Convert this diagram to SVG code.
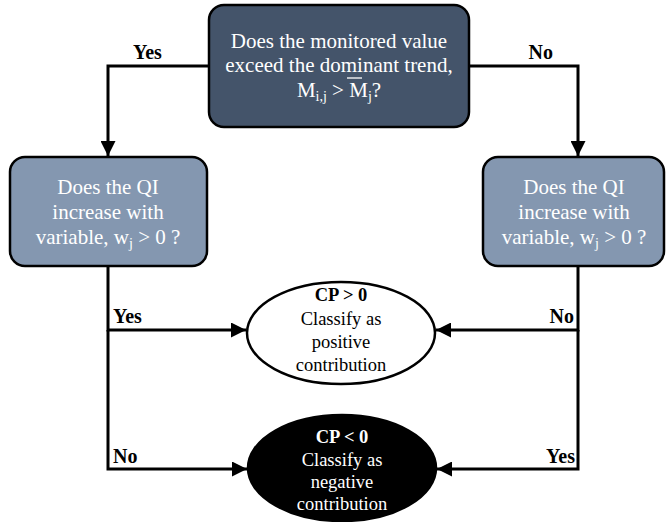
<svg xmlns="http://www.w3.org/2000/svg" width="668" height="522" viewBox="0 0 668 522">
  <defs>
    <marker id="arrow" viewBox="0 0 10 10" refX="10" refY="5" markerWidth="5" markerHeight="5" markerUnits="strokeWidth" orient="auto">
      <path d="M0,0 L10,5 L0,10 Z" fill="#000"/>
    </marker>
    <style>
      .box-dark { fill: #44546a; stroke: #000; stroke-width: 2.5; }
      .box-light { fill: #8497b0; stroke: #000; stroke-width: 2.5; }
      .ell-white { fill: #fff; stroke: #000; stroke-width: 2.5; }
      .ell-black { fill: #000; stroke: #000; stroke-width: 2.5; }
      .q { font-family: "Liberation Serif", "Times New Roman", serif; font-size: 21px; fill: #fff; text-anchor: middle; }
      .r { font-family: "Liberation Serif", "Times New Roman", serif; font-size: 18.5px; text-anchor: middle; }
      .lbl { font-family: "Liberation Serif", "Times New Roman", serif; font-size: 20px; font-weight: bold; fill: #000; }
      .sub { font-size: 14px; }
      .conn { fill: none; stroke: #000; stroke-width: 3; }
    </style>
  </defs>

  <!-- connectors -->
  <g id="connectors">
    <polyline class="conn" points="209,66 108,66 108,156" marker-end="url(#arrow)"/>
    <polyline class="conn" points="469,66 578,66 578,156" marker-end="url(#arrow)"/>
    <polyline class="conn" points="108,266 108,330 246,330" marker-end="url(#arrow)"/>
    <polyline class="conn" points="108,330 108,469 247,469" marker-end="url(#arrow)"/>
    <polyline class="conn" points="578,266 578,330 436,330" marker-end="url(#arrow)"/>
    <polyline class="conn" points="578,330 578,469 437,469" marker-end="url(#arrow)"/>
    <text class="lbl" x="133" y="59">Yes</text>
    <text class="lbl" x="553" y="59" text-anchor="end">No</text>
    <text class="lbl" x="113" y="323">Yes</text>
    <text class="lbl" x="574" y="323" text-anchor="end">No</text>
    <text class="lbl" x="113" y="463">No</text>
    <text class="lbl" x="575" y="463" text-anchor="end">Yes</text>
  </g>

  <!-- top decision -->
  <g id="node-trend">
    <rect class="box-dark" x="209" y="5" width="260" height="122" rx="15" ry="15"/>
    <text class="q" x="339" y="48">Does the monitored value</text>
    <text class="q" x="339" y="72">exceed the dominant trend,</text>
    <text class="q" x="339" y="97">M<tspan class="sub" dy="4">i,j</tspan><tspan dy="-4"> &gt; M</tspan><tspan class="sub" dy="4">j</tspan><tspan dy="-4">?</tspan></text>
    <line x1="347" y1="78" x2="362" y2="78" stroke="#fff" stroke-width="1.3"/>
  </g>

  <!-- left decision -->
  <g id="node-qi-left">
    <rect class="box-light" x="10" y="157" width="197" height="109" rx="15" ry="15"/>
    <text class="q" x="108" y="194">Does the QI</text>
    <text class="q" x="108" y="219">increase with</text>
    <text class="q" x="108" y="244">variable, w<tspan class="sub" dy="4">j</tspan><tspan dy="-4"> &gt; 0 ?</tspan></text>
  </g>

  <!-- right decision -->
  <g id="node-qi-right">
    <rect class="box-light" x="483" y="157" width="181" height="109" rx="15" ry="15"/>
    <text class="q" x="574" y="194">Does the QI</text>
    <text class="q" x="574" y="219">increase with</text>
    <text class="q" x="574" y="244">variable, w<tspan class="sub" dy="4">j</tspan><tspan dy="-4"> &gt; 0 ?</tspan></text>
  </g>

  <!-- positive result -->
  <g id="node-positive">
    <ellipse class="ell-white" cx="341" cy="333" rx="94" ry="51"/>
    <text class="r" x="341" y="301" font-weight="bold">CP &gt; 0</text>
    <text class="r" x="341" y="325">Classify as</text>
    <text class="r" x="341" y="348">positive</text>
    <text class="r" x="341" y="371">contribution</text>
  </g>

  <!-- negative result -->
  <g id="node-negative">
    <ellipse class="ell-black" cx="342" cy="468" rx="94" ry="53"/>
    <text class="r" x="342" y="443" font-weight="bold" fill="#fff">CP &lt; 0</text>
    <text class="r" x="342" y="466" fill="#fff">Classify as</text>
    <text class="r" x="342" y="488" fill="#fff">negative</text>
    <text class="r" x="342" y="510" fill="#fff">contribution</text>
  </g>
</svg>
